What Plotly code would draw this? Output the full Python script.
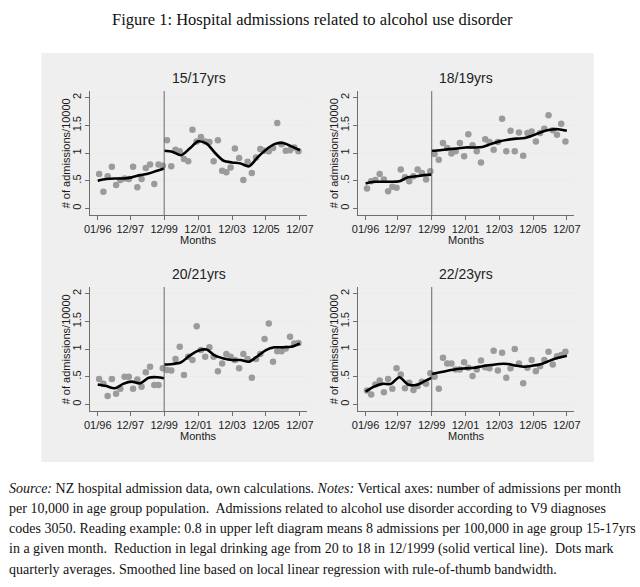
import plotly.graph_objects as go

# ---------------- data ----------------
panel_titles = ["15/17yrs", "18/19yrs", "20/21yrs", "22/23yrs"]
tick_months = [1, 24, 48, 72, 96, 120, 144]
tick_labels = ["01/96", "12/97", "12/99", "12/01", "12/03", "12/05", "12/07"]
reform_month = 48  # 12/1999

# quarterly dots: Q1 1996 .. Q4 2007 (mid-quarter month index, Jan 1996 = 1)
quarter_month = [2 + 3 * q for q in range(48)]

dots_15_17 = [0.62, 0.30, 0.58, 0.75, 0.42, 0.51, 0.54, 0.53, 0.75, 0.38, 0.53, 0.73,
              0.79, 0.44, 0.79, 0.77, 1.23, 0.76, 1.06, 1.03, 0.89, 0.85, 1.42, 1.21,
              1.29, 1.21, 1.20, 0.85, 1.23, 0.68, 0.65, 0.74, 1.08, 0.91, 0.51, 0.84,
              0.64, 0.92, 1.07, 1.04, 1.03, 1.09, 1.54, 1.16, 1.04, 1.05, 1.10, 1.03]
dots_18_19 = [0.36, 0.49, 0.51, 0.62, 0.52, 0.31, 0.39, 0.37, 0.70, 0.56, 0.49, 0.58,
              0.70, 0.64, 0.52, 0.67, 0.98, 0.88, 1.18, 1.09, 0.99, 1.03, 1.18, 0.94,
              1.34, 1.14, 1.03, 0.83, 1.25, 1.20, 1.06, 1.20, 1.62, 1.03, 1.40, 1.03,
              1.37, 0.95, 1.36, 1.39, 1.21, 1.36, 1.44, 1.68, 1.41, 1.33, 1.53, 1.21]
dots_20_21 = [0.46, 0.37, 0.15, 0.46, 0.19, 0.28, 0.50, 0.50, 0.28, 0.45, 0.32, 0.58,
              0.68, 0.35, 0.35, 0.65, 0.62, 0.61, 0.82, 1.04, 0.53, 0.86, 0.80, 1.41,
              0.98, 0.86, 1.03, 0.86, 0.60, 0.74, 0.91, 0.86, 0.80, 0.65, 0.91, 0.82,
              0.48, 0.82, 0.91, 1.18, 1.46, 0.77, 0.96, 0.96, 1.01, 1.22, 1.10, 1.11]
dots_22_23 = [0.25, 0.18, 0.36, 0.43, 0.22, 0.46, 0.28, 0.65, 0.54, 0.29, 0.39, 0.26,
              0.33, 0.41, 0.37, 0.56, 0.50, 0.28, 0.84, 0.74, 0.74, 0.63, 0.63, 0.76,
              0.66, 0.51, 0.63, 0.79, 0.67, 0.65, 0.97, 0.61, 0.93, 0.48, 0.65, 1.00,
              0.74, 0.38, 0.66, 0.80, 0.60, 0.69, 0.80, 0.95, 0.72, 0.87, 0.89, 0.95]

# smoothed (local linear) lines, before and after the reform
pre_months = [1, 7, 13, 19, 25, 31, 37, 43, 48]
post_months = [48, 54, 60, 66, 72, 78, 84, 90, 96, 102, 108, 114, 120, 126, 132, 138, 144]

pre_15_17 = [0.50, 0.53, 0.54, 0.54, 0.56, 0.60, 0.63, 0.68, 0.72]
post_15_17 = [1.04, 1.02, 0.96, 1.08, 1.21, 1.17, 1.00, 0.86, 0.83, 0.81, 0.76, 0.92,
              1.06, 1.16, 1.18, 1.12, 1.05]
pre_18_19 = [0.45, 0.48, 0.48, 0.48, 0.49, 0.56, 0.58, 0.60, 0.61]
post_18_19 = [1.04, 1.05, 1.07, 1.08, 1.10, 1.10, 1.11, 1.16, 1.21, 1.24, 1.26, 1.27,
              1.32, 1.38, 1.42, 1.43, 1.40]
pre_20_21 = [0.36, 0.33, 0.29, 0.37, 0.41, 0.38, 0.48, 0.49, 0.47]
post_20_21 = [0.72, 0.73, 0.76, 0.88, 0.97, 0.99, 0.88, 0.83, 0.80, 0.80, 0.77, 0.87,
              0.98, 1.03, 1.03, 1.04, 1.10]
pre_22_23 = [0.23, 0.32, 0.37, 0.37, 0.49, 0.36, 0.35, 0.42, 0.48]
post_22_23 = [0.55, 0.58, 0.61, 0.64, 0.65, 0.66, 0.69, 0.71, 0.73, 0.73, 0.70, 0.68,
              0.70, 0.73, 0.79, 0.84, 0.88]

y_ticks = [0, 0.5, 1, 1.5, 2]
y_tick_labels = ["0", ".5", "1", "1.5", "2"]

title_text = "Figure 1: Hospital admissions related to alcohol use disorder"
caption_lines = [
    "<i>Source:</i> NZ hospital admission data, own calculations. <i>Notes:</i> Vertical axes: number of admissions per month",
    "per 10,000 in age group population.  Admissions related to alcohol use disorder according to V9 diagnoses",
    "codes 3050. Reading example: 0.8 in upper left diagram means 8 admissions per 100,000 in age group 15-17yrs",
    "in a given month.  Reduction in legal drinking age from 20 to 18 in 12/1999 (solid vertical line).  Dots mark",
    "quarterly averages. Smoothed line based on local linear regression with rule-of-thumb bandwidth.",
]

# ---------------- layout helpers ----------------
W, H = 640, 587
def px(x):
    return x / W
def py(y):
    return 1 - y / H

# plot areas in pixels: (left, right, top, bottom)
areas = [(86, 307, 91, 215), (359, 579, 91, 215), (86, 307, 287, 411), (359, 579, 287, 411)]
dots_all = [dots_15_17, dots_18_19, dots_20_21, dots_22_23]
pre_all = [pre_15_17, pre_18_19, pre_20_21, pre_22_23]
post_all = [post_15_17, post_18_19, post_20_21, post_22_23]

SANS = "Liberation Sans, Arial, sans-serif"
SERIF = "Liberation Serif, Times New Roman, serif"
DOT_COLOR = "#9b9b9b"
AXIS_COLOR = "#6e6e6e"

fig = go.Figure()
annotations = []
shapes = []

# gray graph region background
shapes.append(dict(type="rect", xref="paper", yref="paper",
                   x0=px(36), x1=px(599), y0=py(462), y1=py(53),
                   fillcolor="#efefef", line=dict(width=0), layer="below"))

for i in range(4):
    n = "" if i == 0 else str(i + 1)
    xa, ya = "x" + n, "y" + n
    l, r, t, b = areas[i]
    fig.add_trace(go.Scatter(x=quarter_month, y=dots_all[i], mode="markers",
                             marker=dict(color=DOT_COLOR, size=6.5), xaxis=xa, yaxis=ya,
                             showlegend=False, hoverinfo="x+y"))
    fig.add_trace(go.Scatter(x=pre_months, y=pre_all[i], mode="lines",
                             line=dict(color="black", width=2.6, shape="spline", smoothing=0.8),
                             xaxis=xa, yaxis=ya, showlegend=False))
    fig.add_trace(go.Scatter(x=post_months, y=post_all[i], mode="lines",
                             line=dict(color="black", width=2.6, shape="spline", smoothing=0.8),
                             xaxis=xa, yaxis=ya, showlegend=False))
    common_font = dict(family=SANS, size=11, color="#1a1a1a")
    fig.layout["xaxis" + n] = dict(
        domain=[px(l), px(r)], range=[-4.2, 149.2], anchor=ya,
        tickmode="array", tickvals=tick_months, ticktext=tick_labels,
        ticks="outside", ticklen=4, tickcolor=AXIS_COLOR, tickfont=common_font,
        showline=True, linecolor=AXIS_COLOR, linewidth=1, showgrid=False, zeroline=False,
        fixedrange=True)
    fig.layout["yaxis" + n] = dict(
        domain=[py(b), py(t)], range=[-0.12, 2.12], anchor=xa,
        tickmode="array", tickvals=y_ticks, ticktext=y_tick_labels, tickangle=-90,
        ticks="outside", ticklen=4, tickcolor=AXIS_COLOR, tickfont=common_font,
        showline=True, linecolor=AXIS_COLOR, linewidth=1,
        showgrid=True, gridcolor="#ebebeb", gridwidth=1, zeroline=False, fixedrange=True)
    # reform vertical line
    shapes.append(dict(type="line", xref=xa, yref=ya + " domain", x0=reform_month, x1=reform_month,
                       y0=0, y1=1, line=dict(color="#6a6a6a", width=1)))
    # panel title
    annotations.append(dict(text=panel_titles[i], xref="paper", yref="paper",
                            x=px((l + r) / 2), y=py(t - 13), showarrow=False,
                            xanchor="center", yanchor="middle",
                            font=dict(family=SANS, size=14, color="#222222")))
    # y-axis title
    annotations.append(dict(text="# of admissions/10000", xref="paper", yref="paper",
                            x=px(l - 24.5), y=py((t + b) / 2), showarrow=False, textangle=-90,
                            xanchor="center", yanchor="middle",
                            font=dict(family=SANS, size=11, color="#1a1a1a")))
    # x-axis title
    annotations.append(dict(text="Months", xref="paper", yref="paper",
                            x=px((l + r) / 2), y=py(b + 25), showarrow=False,
                            xanchor="center", yanchor="middle",
                            font=dict(family=SANS, size=11, color="#1a1a1a")))

# figure title
annotations.append(dict(text=title_text, xref="paper", yref="paper", x=px(312), y=py(19),
                        showarrow=False, xanchor="center", yanchor="middle",
                        font=dict(family=SERIF, size=16.5, color="#111111")))
# caption
cap_y = [488, 508, 528, 549, 569]
for line, yy in zip(caption_lines, cap_y):
    annotations.append(dict(text=line, xref="paper", yref="paper", x=px(1), y=py(yy),
                            showarrow=False, xanchor="left", yanchor="middle",
                            font=dict(family=SERIF, size=14, color="#111111")))

fig.update_layout(width=W, height=H, margin=dict(l=0, r=0, t=0, b=0),
                  paper_bgcolor="white", plot_bgcolor="white",
                  shapes=shapes, annotations=annotations, showlegend=False)

fig.write_html("out.html", config={"displayModeBar": False},
               post_script="document.body.style.margin='0';")
